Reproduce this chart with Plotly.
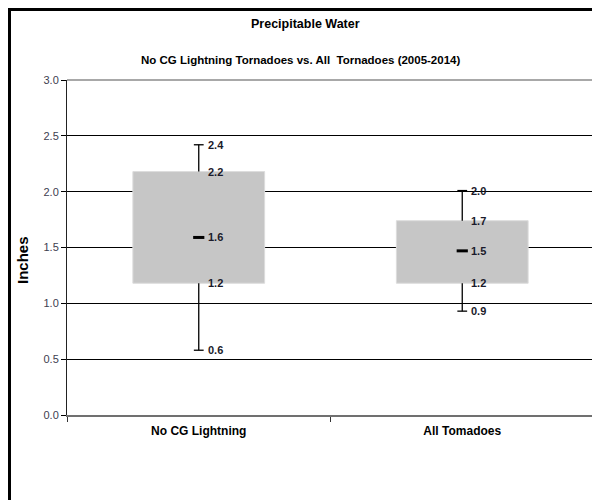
import plotly.graph_objects as go

categories = ["No CG Lightning", "All Tomadoes"]
whisker_low = [0.58, 0.93]
box_low = [1.18, 1.18]
median = [1.59, 1.47]
box_high = [2.18, 1.74]
whisker_high = [2.42, 2.01]
y_ticks = [0.0, 0.5, 1.0, 1.5, 2.0, 2.5, 3.0]

FONT = "Liberation Sans, Arial"

# page geometry (the page has an 8px body margin)
OFF = 8
PL, PR, PT, PB = 67, 594, 80, 415
W, H = 600 - OFF, 500 - OFF


def fx(px):
    return (px - PL) / (PR - PL)


def fy(py):
    return (PB - py) / (PB - PT)


fig = go.Figure()

# boxes
fig.add_trace(go.Bar(x=categories,
                     y=[h - l for h, l in zip(box_high, box_low)],
                     base=box_low, width=0.5,
                     marker=dict(color="#c6c6c6", line=dict(color="#dcdcdc", width=1)),
                     hoverinfo="skip", showlegend=False))

# whisker lines outside the box
wx, wy = [], []
for c, lo, q1, q3, hi in zip(categories, whisker_low, box_low, box_high, whisker_high):
    wx += [c, c, None, c, c, None]
    wy += [q3, hi, None, lo, q1, None]
fig.add_trace(go.Scatter(x=wx, y=wy, mode="lines",
                         line=dict(color="black", width=1.3),
                         hoverinfo="skip", showlegend=False))
# caps
fig.add_trace(go.Scatter(x=categories + categories, y=whisker_low + whisker_high,
                         mode="markers",
                         marker=dict(symbol="line-ew", size=7,
                                     line=dict(color="black", width=1.3)),
                         hoverinfo="skip", showlegend=False))

# median marks
fig.add_trace(go.Scatter(x=categories, y=median, mode="markers",
                         marker=dict(symbol="line-ew", size=8,
                                     line=dict(color="black", width=3)),
                         hoverinfo="skip", showlegend=False))

# data labels
for i, c in enumerate(categories):
    for v in [whisker_high[i], box_high[i], median[i], box_low[i], whisker_low[i]]:
        fig.add_annotation(x=c, y=v, text=f"{v:.1f}", showarrow=False,
                           xanchor="left", yanchor="middle", xshift=7,
                           font=dict(family=FONT, size=11, color="#1a1a2a", weight="bold"))

# y axis title
fig.add_annotation(xref="paper", yref="paper", x=fx(22), y=fy(260),
                   text="Inches", textangle=-90, showarrow=False,
                   xanchor="center", yanchor="middle",
                   font=dict(family=FONT, size=15, color="black", weight="bold"))

# titles
fig.add_annotation(xref="paper", yref="paper", x=fx(305), y=fy(24),
                   text="Precipitable Water", showarrow=False,
                   xanchor="center", yanchor="middle",
                   font=dict(family=FONT, size=12.5, color="black", weight="bold"))
fig.add_annotation(xref="paper", yref="paper", x=fx(300), y=fy(60),
                   text="No CG Lightning Tornadoes vs. All  Tornadoes (2005-2014)", showarrow=False,
                   xanchor="center", yanchor="middle",
                   font=dict(family=FONT, size=11.5, color="black", weight="bold"))

# black frame pieces (left and top)
fig.add_shape(type="rect", xref="paper", yref="paper",
              x0=fx(OFF), x1=fx(OFF + 3),
              y0=fy(500), y1=fy(OFF),
              fillcolor="black", line=dict(width=0))
fig.add_shape(type="rect", xref="paper", yref="paper",
              x0=fx(OFF), x1=fx(600),
              y0=fy(OFF + 3), y1=fy(OFF),
              fillcolor="black", line=dict(width=0))

fig.update_layout(
    width=W, height=H,
    margin=dict(l=PL - OFF, r=W - (PR - OFF), t=PT - OFF, b=H - (PB - OFF)),
    paper_bgcolor="white", plot_bgcolor="white",
    font=dict(family=FONT),
)
fig.update_xaxes(type="category", tickson="boundaries", ticks="outside", ticklen=5,
                 tickcolor="#333333", showgrid=False,
                 showline=True, linecolor="#707070", linewidth=2,
                 mirror=False, automargin=False, ticklabelstandoff=4,
                 tickfont=dict(family=FONT, size=12, color="black", weight="bold"),
                 range=[-0.5, 1.5])
fig.update_yaxes(range=[0, 3], tickvals=y_ticks, tickformat=".1f",
                 ticks="outside", ticklen=5, tickcolor="black",
                 showgrid=True, gridcolor="black", gridwidth=1,
                 zeroline=False, automargin=False,
                 showline=True, linecolor="#222222", linewidth=1,
                 tickfont=dict(family=FONT, size=11, color="#404050"))

# top and right light-gray frame lines
fig.add_shape(type="line", xref="paper", yref="paper", x0=0, x1=1, y0=1, y1=1,
              line=dict(color="#a8a8a8", width=2))
fig.add_shape(type="line", xref="paper", yref="paper", x0=1, x1=1, y0=0, y1=1,
              line=dict(color="#a8a8a8", width=2))

fig.write_html("out.html")
